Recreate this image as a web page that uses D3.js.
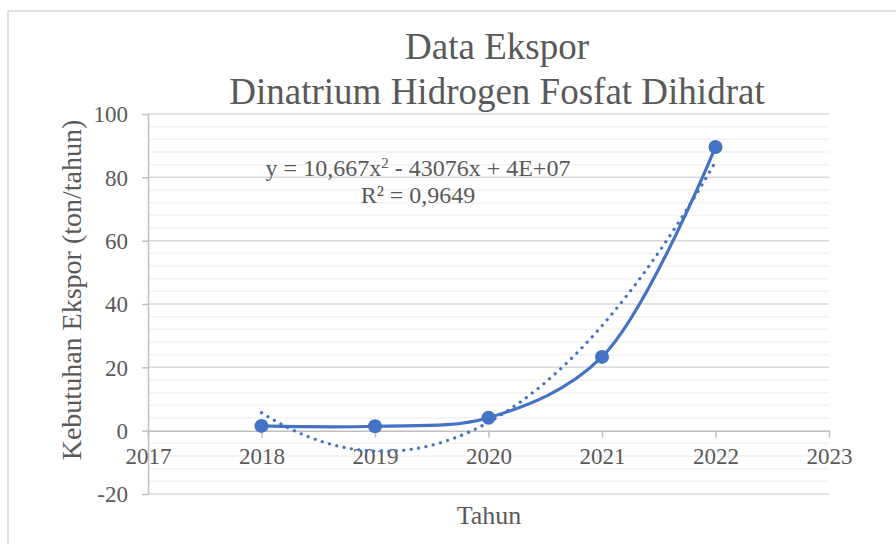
<!DOCTYPE html>
<meta charset="utf-8">
<style type="text/css">
body {
  margin: 0;
  background: #fff;
}

svg text {
  font-family: "Liberation Serif", "Times New Roman", serif;
  fill: #595959;
}

.title {
  font-size: 37px;
}

.axis text {
  font-size: 23px;
}

.axis path,
.axis line {
  fill: none;
  stroke: #bfbfbf;
  stroke-width: 1.5px;
}

.grid-major line {
  stroke: #d9d9d9;
  stroke-width: 1.5px;
}

.grid-minor line {
  stroke: #f2f2f2;
  stroke-width: 1.5px;
}
</style>
<body>
</body>

<script src="https://cdn.jsdelivr.net/npm/d3@7"></script>
<script>
var years = [2018, 2019, 2020, 2021, 2022];
var ekspor = [1.5, 1.4, 4.1, 23.3, 89.6];

var xTicks = [2017, 2018, 2019, 2020, 2021, 2022, 2023];
var yTicks = [-20, 0, 20, 40, 60, 80, 100];

var titleLines = ["Data Ekspor", "Dinatrium Hidrogen Fosfat Dihidrat"];
var xTitle = "Tahun";
var yTitle = "Kebutuhan Ekspor (ton/tahun)";
var rSquared = "R² = 0,9649";

var width = 896, height = 544;
var plot = { left: 148, right: 829, top: 114, bottom: 494 };
var blue = "#4472c4";
var serif = "'Liberation Serif', 'Times New Roman', serif";

var svg = d3.select("body")
  .append("svg")
    .attr("width", width)
    .attr("height", height)
    .attr("font-family", serif);

// chart frame
svg.append("rect")
  .attr("x", 8)
  .attr("y", 11)
  .attr("width", 1000)
  .attr("height", 600)
  .attr("fill", "#fff")
  .attr("stroke", "#d9d9d9")
  .attr("stroke-width", 1.5);

var xscale = d3.scaleLinear()
  .domain([2017, 2023])
  .range([plot.left, plot.right]);

var yscale = d3.scaleLinear()
  .domain([-20, 100])
  .range([plot.bottom, plot.top]);

// gridlines, minor every 4
svg.append("g")
  .attr("class", "grid-minor")
  .selectAll("line")
  .data(d3.range(-20, 101, 4).filter(function(d) { return d % 20 != 0; }))
  .enter().append("line")
    .attr("x1", plot.left)
    .attr("x2", plot.right)
    .attr("y1", function(d) { return yscale(d); })
    .attr("y2", function(d) { return yscale(d); });

svg.append("g")
  .attr("class", "grid-major")
  .selectAll("line")
  .data(yTicks.filter(function(d) { return d != 0; }))
  .enter().append("line")
    .attr("x1", plot.left)
    .attr("x2", plot.right)
    .attr("y1", function(d) { return yscale(d); })
    .attr("y2", function(d) { return yscale(d); });

var yAxis = d3.axisLeft(yscale)
  .tickValues(yTicks)
  .tickSize(6)
  .tickSizeOuter(0)
  .tickPadding(14)
  .tickFormat(function(d) { return String(d); });

svg.append("g")
  .attr("class", "y axis")
  .attr("transform", "translate(" + plot.left + ",0)")
  .call(yAxis)
  .attr("font-family", serif)
  .attr("font-size", null);

var xAxis = d3.axisBottom(xscale)
  .tickValues(xTicks)
  .tickSize(7)
  .tickSizeOuter(0)
  .tickPadding(10)
  .tickFormat(function(d) { return String(d); });

svg.append("g")
  .attr("class", "x axis")
  .attr("transform", "translate(0," + yscale(0) + ")")
  .call(xAxis)
  .attr("font-family", serif)
  .attr("font-size", null);

svg.selectAll(".y.axis text").attr("dy", "0.34em");

// polynomial (order 2) trendline, least squares
function polyFit(xs, ys) {
  var x0 = d3.mean(xs);
  var t = xs.map(function(d) { return d - x0; });
  var s = [0, 0, 0, 0, 0], r = [0, 0, 0];
  t.forEach(function(ti, i) {
    for (var k = 0; k < 5; k++) s[k] += Math.pow(ti, k);
    for (var k = 0; k < 3; k++) r[k] += Math.pow(ti, k) * ys[i];
  });
  var M = [[s[0], s[1], s[2], r[0]], [s[1], s[2], s[3], r[1]], [s[2], s[3], s[4], r[2]]];
  for (var i = 0; i < 3; i++) {
    for (var j = i + 1; j < 3; j++) {
      var f = M[j][i] / M[i][i];
      for (var k = i; k < 4; k++) M[j][k] -= f * M[i][k];
    }
  }
  var c = [0, 0, 0];
  for (var i = 2; i >= 0; i--) {
    var v = M[i][3];
    for (var k = i + 1; k < 3; k++) v -= M[i][k] * c[k];
    c[i] = v / M[i][i];
  }
  return function(x) { var u = x - x0; return c[0] + c[1] * u + c[2] * u * u; };
}

var trend = polyFit(years, ekspor);
var trendPts = d3.range(years[0], years[years.length - 1] + 0.0001, 0.02)
  .map(function(x) { return [x, trend(x)]; });

var line = d3.line()
  .x(function(d) { return xscale(d[0]); })
  .y(function(d) { return yscale(d[1]); });

svg.append("path")
  .datum(trendPts)
  .attr("d", line)
  .attr("fill", "none")
  .attr("stroke", blue)
  .attr("stroke-width", 3.2)
  .attr("stroke-linecap", "round")
  .attr("stroke-dasharray", "0.1,7.4");

var series = years.map(function(y, i) { return [y, ekspor[i]]; });

svg.append("path")
  .datum(series)
  .attr("d", line.curve(d3.curveCatmullRom.alpha(0.5)))
  .attr("fill", "none")
  .attr("stroke", blue)
  .attr("stroke-width", 3.2);

svg.selectAll("circle.point")
  .data(series)
  .enter().append("circle")
    .attr("class", "point")
    .attr("cx", function(d) { return xscale(d[0]); })
    .attr("cy", function(d) { return yscale(d[1]); })
    .attr("r", 7)
    .attr("fill", blue);

// titles
svg.selectAll("text.title")
  .data(titleLines)
  .enter().append("text")
    .attr("class", "title")
    .attr("x", 497)
    .attr("y", function(d, i) { return 59 + i * 45; })
    .attr("text-anchor", "middle")
    .text(function(d) { return d; });

svg.append("text")
  .attr("x", 489)
  .attr("y", 524)
  .attr("text-anchor", "middle")
  .style("font-size", "26px")
  .text(xTitle);

svg.append("text")
  .attr("transform", "translate(81,290) rotate(-90)")
  .attr("text-anchor", "middle")
  .style("font-size", "28px")
  .text(yTitle);

// equation label
var eq = svg.append("text")
  .attr("x", 418)
  .attr("y", 176)
  .attr("text-anchor", "middle")
  .style("font-size", "24px");
eq.append("tspan").text("y = 10,667x");
eq.append("tspan").attr("baseline-shift", "super").style("font-size", "15px").text("2");
eq.append("tspan").text(" - 43076x + 4E+07");

svg.append("text")
  .attr("x", 418)
  .attr("y", 203)
  .attr("text-anchor", "middle")
  .style("font-size", "24px")
  .text(rSquared);
</script>
